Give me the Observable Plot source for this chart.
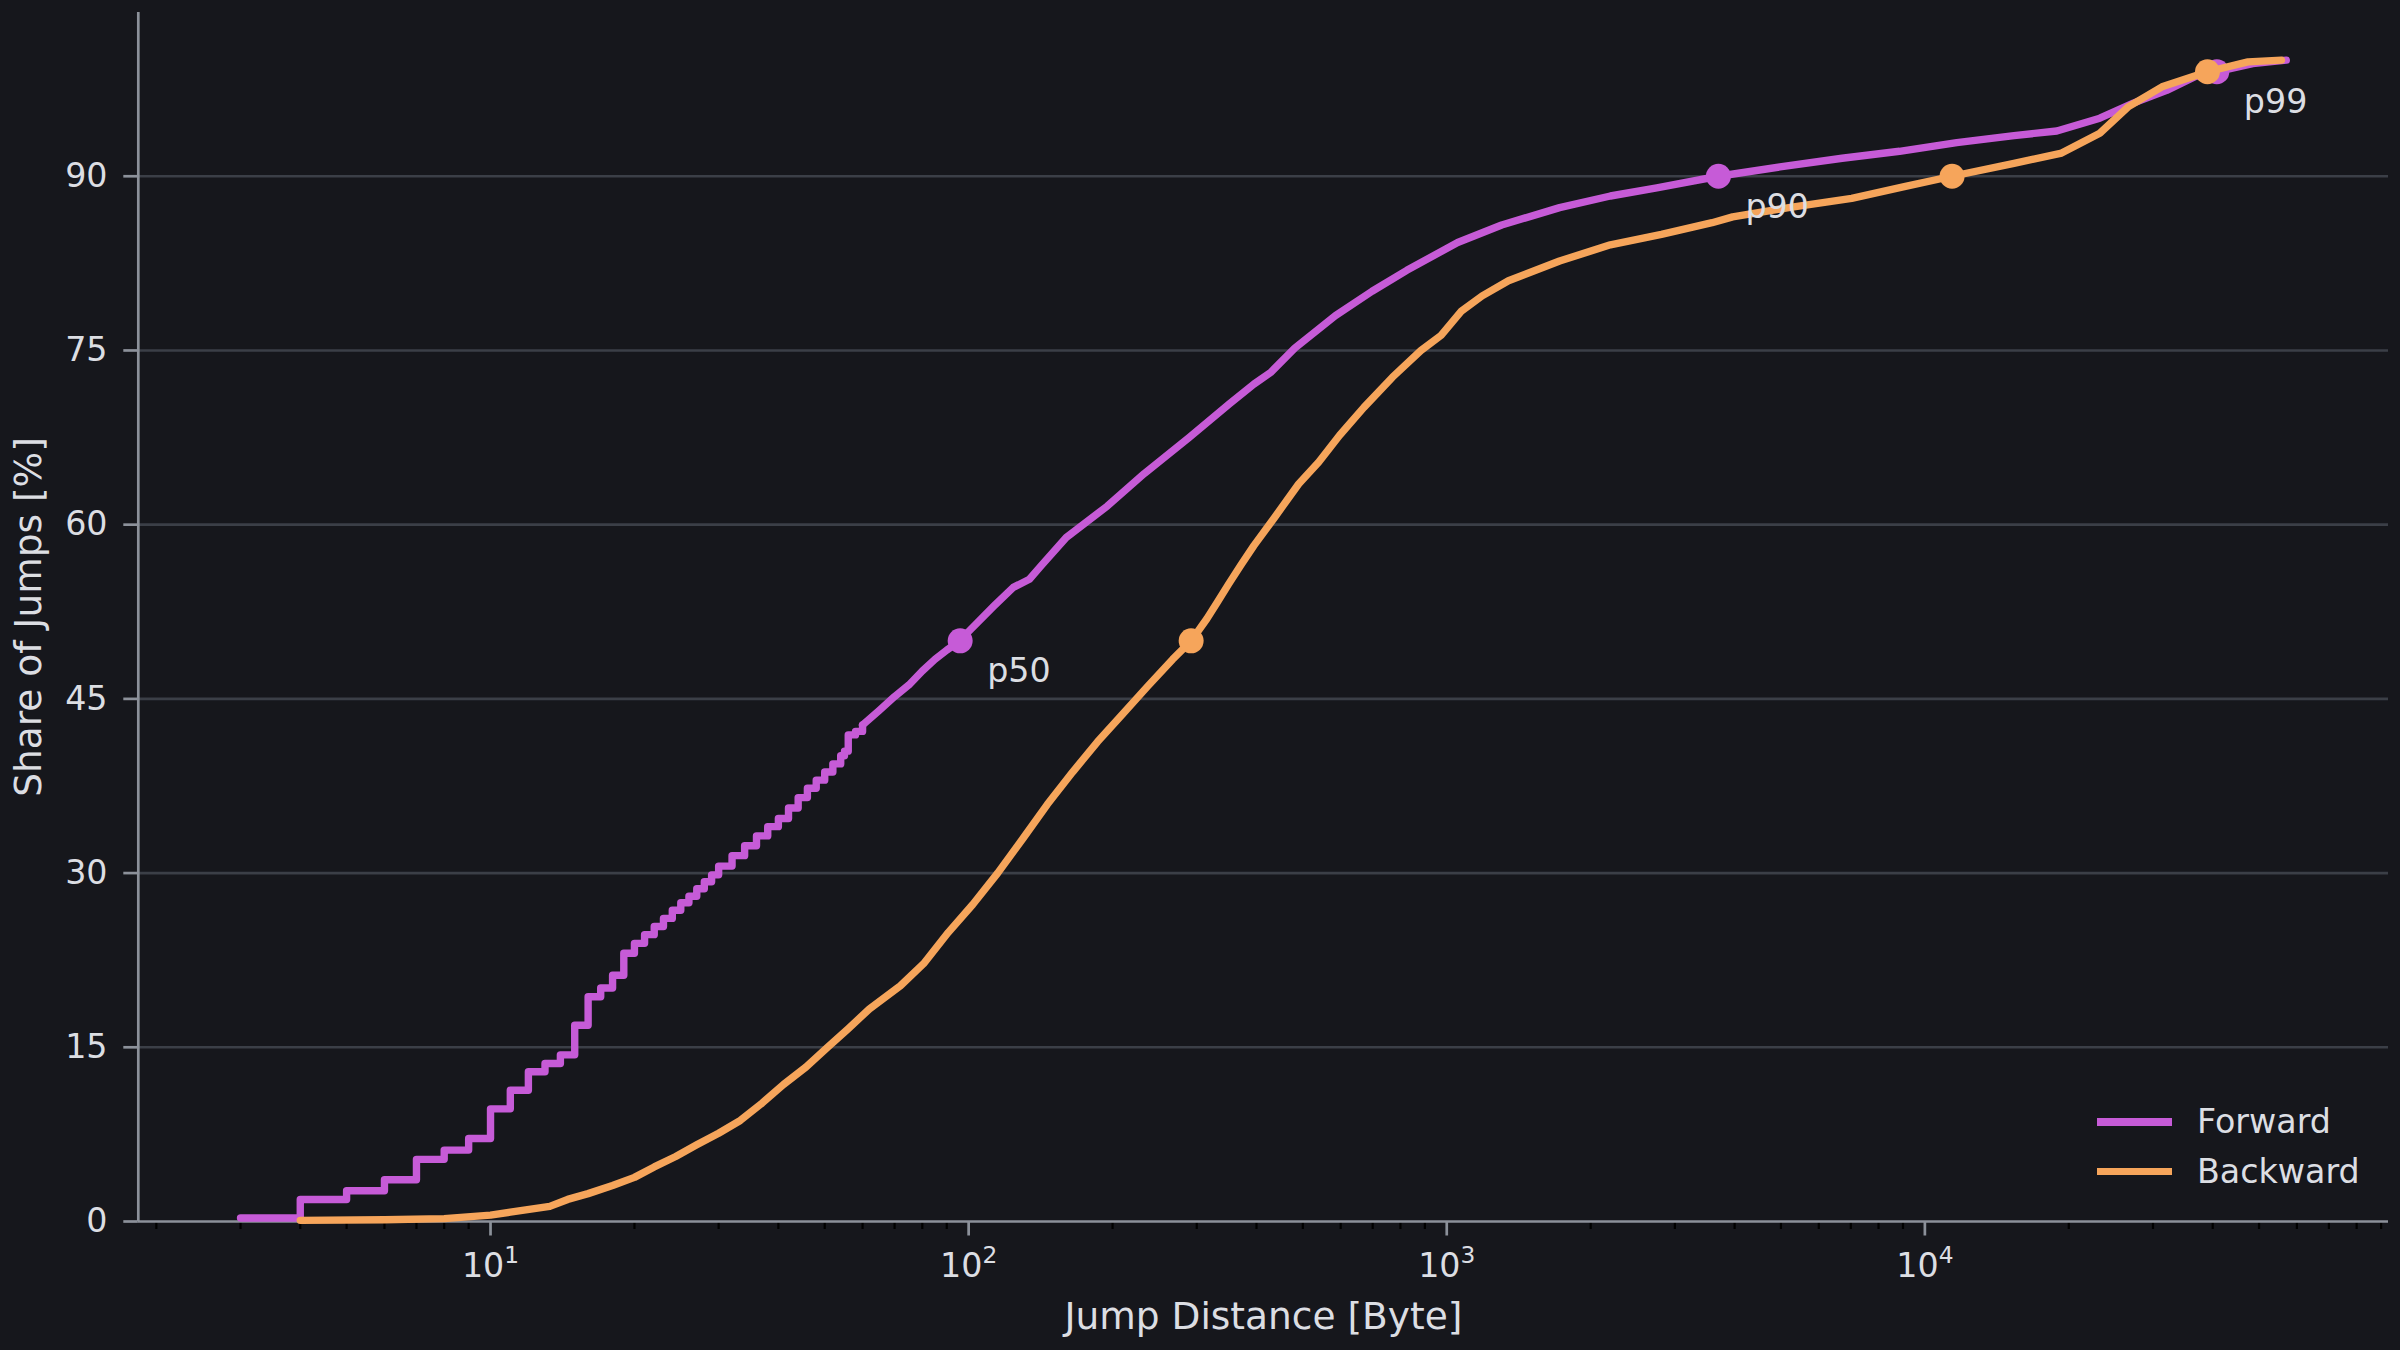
<!DOCTYPE html>
<html>
<head>
<meta charset="utf-8">
<script src="https://cdn.jsdelivr.net/npm/d3@7"></script>
<script src="https://cdn.jsdelivr.net/npm/@observablehq/plot@0.6"></script>
<style>
  html, body { margin: 0; padding: 0; background: #16171c; }
  #chart { position: relative; width: 2400px; height: 1350px; }
  .legend { position: absolute; left: 2097px; top: 1097px; font-family: "DejaVu Sans"; font-size: 33.3px; color: #dcdee3; }
  .legend .row { display: flex; align-items: center; height: 49.5px; }
  .legend .swatch { width: 75px; height: 7.5px; margin-right: 25px; }
</style>
</head>
<body>
<div id="chart"></div>
<script>
// Cumulative share of jumps by jump distance (bytes)
const seriesNames = ["Forward", "Backward"];
const seriesColors = ["#c65bd7", "#f6a55b"];

// Forward jumps: short distances are discrete byte counts, drawn as steps
const forwardStepDistance = [3, 4, 5, 6, 7, 8, 9, 10, 11, 12, 13, 14, 15, 16, 17, 18, 19, 20,
  21, 22, 23, 24, 25, 26, 27, 28, 29, 30, 32, 34, 36, 38, 40, 42, 44, 46, 48, 50, 52, 54, 55, 56, 58, 60];
const forwardStepShare = [0.3, 1.9, 2.65, 3.6, 5.35, 6.15, 7.15, 9.7, 11.3, 12.9, 13.6, 14.35, 16.9, 19.35, 20.1, 21.2, 23.1, 23.95,
  24.7, 25.4, 26.1, 26.8, 27.45, 28.0, 28.65, 29.25, 29.85, 30.6, 31.5, 32.35, 33.2, 34.0, 34.7, 35.6, 36.5, 37.3, 38.0, 38.7, 39.4, 40.1, 40.5, 41.9, 42.2, 42.75];

// Forward jumps beyond 60 bytes
const forwardDistance = [60, 65, 70, 75, 80, 85, 90, 96, 100, 113, 124, 134, 142, 160, 195, 233, 289, 351, 395,
  428, 481, 585, 698, 825, 1054, 1303, 1722, 2199, 2750, 3700, 4977, 6714, 8851, 11660, 15360, 18880, 23220,
  27290, 32060, 36810, 40800, 48500, 57000];
const forwardShare = [42.75, 44.0, 45.2, 46.2, 47.4, 48.4, 49.2, 50.0, 50.8, 53.0, 54.6, 55.3, 56.5, 58.9, 61.6, 64.4, 67.5, 70.4, 72.1,
  73.1, 75.2, 78.0, 80.1, 81.9, 84.3, 85.8, 87.3, 88.3, 89.0, 90.0, 90.8, 91.55, 92.15, 92.9, 93.5, 93.9, 95.0,
  96.3, 97.4, 98.6, 99.0, 99.7, 100];

// Backward jumps
const backwardDistance = [4, 6, 8, 10, 11, 13.3, 14.5, 16, 18, 20, 22, 24.4, 27, 30, 33.3, 37, 41, 45.7, 50.7, 56,
  62, 72, 80.5, 90.7, 102, 115, 130, 146, 165, 186, 210, 237, 267, 292, 315, 331, 350, 372, 395, 436,
  490, 540, 597, 671, 770, 883, 973, 1074, 1186, 1346, 1722, 2199, 2812, 3589, 3963, 5190, 7030, 9057, 11400, 15360,
  19320, 23220, 26670, 31330, 39000, 47400, 55700];
const backwardShare = [0.1, 0.15, 0.25, 0.55, 0.8, 1.3, 1.9, 2.4, 3.1, 3.8, 4.7, 5.6, 6.6, 7.6, 8.7, 10.2, 11.8, 13.3, 15.0, 16.6,
  18.3, 20.3, 22.2, 24.9, 27.3, 30.0, 33.0, 35.9, 38.7, 41.3, 43.7, 46.1, 48.4, 50.0, 51.9, 53.3, 54.9, 56.6, 58.2, 60.6,
  63.5, 65.4, 67.7, 70.1, 72.7, 75.0, 76.3, 78.4, 79.7, 81.0, 82.7, 84.1, 85.0, 86.0, 86.5, 87.3, 88.1, 89.1, 90.0, 91.1,
  92.0, 93.7, 96.0, 97.7, 99.0, 99.85, 100];

// Percentile markers
const percentileNames = ["p50", "p90", "p99"];
const percentileShare = [50, 90, 99];
const forwardPercentileDistance = [96, 3700, 40800];
const backwardPercentileDistance = [292, 11400, 39000];

// Axes
const xDomain = [1.8336, 93265];
const yDomain = [0, 104.1];
const xMajorTicks = [10, 100, 1000, 10000];
const xTickBase = "10";
const xTickExponents = ["1", "2", "3", "4"];
const xMinorTicks = [2, 3, 4, 5, 6, 7, 8, 9, 20, 30, 40, 50, 60, 70, 80, 90,
  200, 300, 400, 500, 600, 700, 800, 900, 2000, 3000, 4000, 5000, 6000, 7000, 8000, 9000,
  20000, 30000, 40000, 50000, 60000, 70000, 80000, 90000];
const yTicks = [0, 15, 30, 45, 60, 75, 90];
const xLabel = "Jump Distance [Byte]";
const yLabel = "Share of Jumps [%]";

const bg = "#16171c", textColor = "#dcdee3", spine = "#8c919a", grid = "#3b3f47";
const lineW = 7.4;

const toRows = (xs, ys) => xs.map((x, i) => ({x, y: ys[i]}));
const fwdSteps = toRows(forwardStepDistance, forwardStepShare);
const fwdTail = toRows(forwardDistance, forwardShare);
const bwd = toRows(backwardDistance, backwardShare);
const fwdPct = forwardPercentileDistance.map((x, i) => ({x, y: percentileShare[i], name: percentileNames[i]}));
const bwdPct = backwardPercentileDistance.map((x, i) => ({x, y: percentileShare[i], name: percentileNames[i]}));

const lineStyle = {strokeWidth: lineW, strokeLinecap: "round", strokeLinejoin: "round"};
// marker string that is later split into base and raised exponent
const xTickText = d => xTickBase + "^" + xTickExponents[xMajorTicks.indexOf(d)];

const chart = Plot.plot({
  width: 2400,
  height: 1350,
  marginLeft: 137.8,
  marginRight: 12,
  marginTop: 12,
  marginBottom: 129,
  x: {type: "log", domain: xDomain},
  y: {domain: yDomain},
  style: {background: bg, color: textColor, fontFamily: "DejaVu Sans"},
  marks: [
    Plot.gridY(yTicks.filter(d => d > 0), {stroke: grid, strokeOpacity: 1, strokeWidth: 2.6}),
    Plot.axisX(xMinorTicks, {tickSize: 8, stroke: "#000", strokeWidth: 2.2, tickFormat: () => "", label: null}),
    Plot.axisX(xMajorTicks, {
      tickSize: 14.5, tickPadding: 17.6, stroke: spine, strokeWidth: 2.7,
      tickFormat: xTickText, fontSize: 33.3, fill: textColor, label: null, ariaLabel: "x-major"
    }),
    Plot.axisY(yTicks, {
      tickSize: 14.5, tickPadding: 16.3, stroke: spine, strokeWidth: 2.7,
      tickFormat: d => String(d), fontSize: 33.3, fill: textColor, label: null
    }),
    Plot.ruleY([0], {stroke: spine, strokeWidth: 2.7}),
    Plot.ruleX([xDomain[0]], {stroke: spine, strokeWidth: 2.7}),

    Plot.line(fwdSteps, {x: "x", y: "y", curve: "step-after", stroke: seriesColors[0], ...lineStyle}),
    Plot.line(fwdTail, {x: "x", y: "y", stroke: seriesColors[0], ...lineStyle}),
    Plot.dot(fwdPct, {x: "x", y: "y", r: 12.5, fill: seriesColors[0]}),
    Plot.line(bwd, {x: "x", y: "y", stroke: seriesColors[1], ...lineStyle}),
    Plot.dot(bwdPct, {x: "x", y: "y", r: 12.5, fill: seriesColors[1]}),

    Plot.text(fwdPct, {x: "x", y: "y", text: "name", dx: 27, dy: 31, textAnchor: "start",
      lineAnchor: "middle", fontSize: 33.3, fill: textColor}),

    Plot.text([xLabel], {text: d => d, frameAnchor: "bottom", dy: 95, textAnchor: "middle", lineAnchor: "middle",
      fontSize: 37.5, fill: textColor}),
    Plot.text([yLabel], {text: d => d, frameAnchor: "left", dx: -109, rotate: -90, textAnchor: "middle",
      lineAnchor: "middle", fontSize: 37.5, fill: textColor})
  ]
});

// Typeset the decade labels as a base with a raised, smaller exponent
d3.select(chart).selectAll("text").each(function () {
  const t = this.textContent;
  if (!t.includes("^")) return;
  const [base, exp] = t.split("^");
  const el = d3.select(this);
  el.text(null);
  el.append("tspan").text(base);
  el.append("tspan").attr("font-size", "0.7em").attr("dy", "-0.6em").text(exp);
});

const host = document.getElementById("chart");
host.appendChild(chart);

// Legend in the lower-right corner of the plot area
const legend = document.createElement("div");
legend.className = "legend";
seriesNames.forEach((name, i) => {
  const row = document.createElement("div");
  row.className = "row";
  const sw = document.createElement("div");
  sw.className = "swatch";
  sw.style.background = seriesColors[i];
  const label = document.createElement("span");
  label.textContent = name;
  row.appendChild(sw);
  row.appendChild(label);
  legend.appendChild(row);
});
host.appendChild(legend);
</script>
</body>
</html>
